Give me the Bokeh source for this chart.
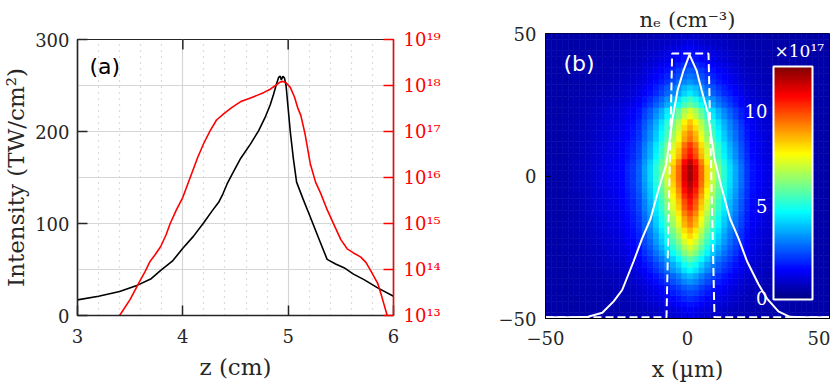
import numpy as np
from math import pi
from bokeh.plotting import figure
from bokeh.layouts import row, column
from bokeh.models import (Range1d, LogScale, LogAxis, FixedTicker,
                          CustomJSTickFormatter, Label, ColorBar, LinearColorMapper,
                          ColumnDataSource)
from bokeh.transform import linear_cmap
from bokeh.embed import file_html
from bokeh.resources import INLINE

SERIF = "DejaVu Serif"
SANS = "DejaVu Sans"

# ---------------- panel (a) data ----------------
z_int = [3.00, 3.20, 3.40, 3.57, 3.70, 3.79, 3.90, 4.00, 4.10, 4.20, 4.28, 4.34, 4.38, 4.42,
         4.48, 4.55, 4.64, 4.72, 4.78, 4.83, 4.86, 4.89, 4.91, 4.925, 4.935, 4.95, 4.965,
         4.98, 5.00, 5.02, 5.05, 5.08, 5.14, 5.21, 5.30, 5.37, 5.45, 5.53, 5.62, 5.72, 5.85, 6.00]
intensity = [17, 21, 26, 33, 40, 49, 59, 73, 86, 101, 114, 123, 132, 143,
             156, 171, 186, 201, 215, 229, 240, 252, 259, 260, 256, 260, 258,
             250, 225, 200, 170, 145, 127, 107, 81, 61, 56, 52, 45, 39, 30, 21]

z_ne = [3.40, 3.50, 3.58, 3.64, 3.69, 3.74, 3.79, 3.84, 3.88, 3.94, 4.00, 4.07, 4.14, 4.20,
        4.26, 4.32, 4.39, 4.47, 4.55, 4.63, 4.70, 4.77, 4.83, 4.88, 4.92, 4.95, 4.98, 5.02,
        5.06, 5.09, 5.12, 5.16, 5.21, 5.26, 5.31, 5.37, 5.44, 5.50, 5.56, 5.62, 5.69, 5.74,
        5.79, 5.85, 5.89, 5.94]
ne_log10 = [13.0, 13.35, 13.70, 13.95, 14.18, 14.33, 14.50, 14.75, 15.00, 15.30, 15.57, 16.00,
            16.43, 16.75, 17.02, 17.25, 17.39, 17.53, 17.65, 17.72, 17.78, 17.85, 17.92, 18.00,
            18.07, 18.09, 18.06, 17.96, 17.75, 17.52, 17.35, 16.95, 16.30, 15.90, 15.65, 15.30,
            14.95, 14.65, 14.45, 14.36, 14.27, 14.15, 13.95, 13.70, 13.40, 13.0]

z_ticks = [3, 4, 5, 6]
z_top_ticks = [4, 5]
int_ticks = [0, 100, 200, 300]
ne_ticks = [1e13, 1e14, 1e15, 1e16, 1e17, 1e18, 1e19]

# ---------------- panel (b) data ----------------
x_cells = np.arange(-49, 50, 2)       # cell centres (um)
y_cells = np.arange(-49, 50, 2)
gx = [0, 0, 0, 0.005, 0.01, 0.016, 0.02, 0.03, 0.04, 0.05, 0.06, 0.07, 0.08, 0.095, 0.125,
      0.15, 0.19, 0.26, 0.32, 0.40, 0.48, 0.58, 0.69, 0.79, 0.93, 1.0, 0.92, 0.79, 0.67, 0.57,
      0.48, 0.40, 0.33, 0.27, 0.21, 0.15, 0.11, 0.09, 0.07, 0.06, 0.05, 0.04, 0.03, 0.02,
      0.016, 0.01, 0.005, 0, 0, 0]
gy = [0.07, 0.08, 0.11, 0.14, 0.17, 0.20, 0.25, 0.29, 0.36, 0.40, 0.46, 0.53, 0.58, 0.63,
      0.67, 0.71, 0.76, 0.78, 0.82, 0.86, 0.88, 0.92, 0.95, 0.98, 1.0, 1.0, 1.0, 0.96, 0.89,
      0.87, 0.84, 0.78, 0.76, 0.72, 0.69, 0.61, 0.58, 0.47, 0.42, 0.34, 0.31, 0.25, 0.22,
      0.19, 0.15, 0.12, 0.11, 0.08, 0.06, 0.04]   # from y=-49 upward
N_BG = 0.5
N_AMP = 11.4
N_MAX = 12.3

x_beam = [-50, -40, -35, -30, -26, -23, -19, -16, -13, -10, -7.5, -5.3, -3.5, -1.4, 0.7,
          3.2, 5.0, 7.2, 9.5, 12, 15, 18, 21, 25, 28, 32, 36, 40, 50]
y_beam = [-49.6, -49.6, -49.4, -48, -44, -40, -30, -22, -15, -4, 4, 20, 30, 37, 42.6,
          37, 30, 22, 6, -4, -15, -22, -30, -38, -43, -47.5, -49.4, -49.6, -49.6]
x_flat = [-50, -7.4, -5.4, 7.4, 9.5, 50]
y_flat = [-49.6, -49.6, 43, 43, -49.6, -49.6]
xy_ticks = [-50, 0, 50]
xy_top_ticks = [0]
cbar_labels = ["10", "5", "0"]


def jet_palette(n=256):
    out = []
    for i in range(n):
        t = i / (n - 1)
        r = min(max(1.5 - abs(4 * t - 3), 0), 1)
        g = min(max(1.5 - abs(4 * t - 2), 0), 1)
        b = min(max(1.5 - abs(4 * t - 1), 0), 1)
        out.append("#%02x%02x%02x" % (int(round(r * 255)), int(round(g * 255)), int(round(b * 255))))
    return out


JET = jet_palette()
AX = "#262626"

# ================= panel (a) =================
pa = figure(width=486, height=386, x_range=(3, 6), y_range=(0, 300),
            output_backend="svg", toolbar_location=None,
            min_border_left=77, min_border_right=93, min_border_top=39, min_border_bottom=71)
pa.outline_line_color = AX
pa.outline_line_width = 1.2

pa.extra_y_ranges = {"ne": Range1d(1e13, 1e19)}
pa.extra_y_scales = {"ne": LogScale()}

for ax in (pa.xaxis[0], pa.yaxis[0]):
    ax.major_tick_in = 10
    ax.major_tick_out = 0
    ax.minor_tick_line_color = None
    ax.axis_line_color = AX
    ax.axis_line_width = 1.5
    ax.major_tick_line_color = AX
    ax.major_tick_line_width = 1.5
    ax.major_label_text_font = SERIF
    ax.major_label_text_font_size = "18px"
    ax.major_label_text_color = AX
    ax.axis_label_text_font = SERIF
    ax.axis_label_text_font_size = "23px"
    ax.axis_label_text_font_style = "normal"
    ax.axis_label_text_color = AX

pa.xaxis.ticker = FixedTicker(ticks=z_ticks)
pa.yaxis.ticker = FixedTicker(ticks=int_ticks)
pa.xaxis.major_label_standoff = 13
pa.yaxis.major_label_standoff = 8
pa.xaxis.axis_label = "z (cm)"
pa.xaxis.axis_label_standoff = 8
pa.yaxis.axis_label = "Intensity (TW/cm²)"
pa.yaxis.axis_label_standoff = 3

sup_code = """
const sup = {"0":"\u2070","1":"\u00b9","2":"\u00b2","3":"\u00b3","4":"\u2074","5":"\u2075","6":"\u2076","7":"\u2077","8":"\u2078","9":"\u2079","-":"\u207b"};
const e = String(Math.round(Math.log10(tick)));
return "10" + e.split("").map(c => sup[c]).join("");
"""
ne_ax = LogAxis(y_range_name="ne", ticker=FixedTicker(ticks=ne_ticks),
                formatter=CustomJSTickFormatter(code=sup_code),
                major_tick_in=10, major_tick_out=0, minor_tick_line_color=None,
                axis_line_color="red", axis_line_width=1.5,
                major_tick_line_color="red", major_tick_line_width=1.5,
                major_label_text_color="red", major_label_text_font=SERIF,
                major_label_text_font_size="18px", major_label_standoff=10)
pa.add_layout(ne_ax, "right")

pa.xgrid.ticker = FixedTicker(ticks=[4, 5],
                              minor_ticks=[3.2, 3.4, 3.6, 3.8, 4.2, 4.4, 4.6, 4.8,
                                           5.2, 5.4, 5.6, 5.8])
pa.xgrid.grid_line_color = "#d6d6d6"
pa.xgrid.grid_line_width = 1.2
pa.xgrid.minor_grid_line_color = "#b8b8b8"
pa.xgrid.minor_grid_line_dash = "1 5"
pa.xgrid.minor_grid_line_width = 1.2
pa.ygrid.ticker = FixedTicker(ticks=[50, 100, 150, 200, 250])
pa.ygrid.grid_line_color = "#d6d6d6"
pa.ygrid.grid_line_width = 1.2

# inward tick marks on the top edge (10 px long)
pa.segment(x0=z_top_ticks, y0=[300] * len(z_top_ticks), x1=z_top_ticks,
           y1=[300 - 10 * 300 / 276] * len(z_top_ticks), line_color=AX, line_width=1.5)

pa.line(z_int, intensity, line_color="black", line_width=1.6)
pa.line(z_ne, [10 ** v for v in ne_log10], y_range_name="ne", line_color="#ff0000", line_width=1.6)

pa.add_layout(Label(x=12, y=249, x_units="screen", y_units="screen", text="(a)",
                    text_font=SANS, text_font_size="22px", text_color="black",
                    text_baseline="middle", text_align="left"))
pa.add_layout(Label(x=386, y=135, x_units="screen", y_units="screen", text="nₑ (cm⁻³)",
                    angle=pi / 2, text_font=SERIF, text_font_size="22px", text_color="red",
                    text_baseline="middle", text_align="center"))

# ================= panel (b) =================
pb = figure(width=344, height=386, x_range=(-50, 50), y_range=(-50, 50),
            output_backend="svg", toolbar_location=None,
            min_border_left=59, min_border_right=1, min_border_top=33, min_border_bottom=68)
pb.outline_line_color = "black"
pb.outline_line_width = 1
pb.grid.visible = False
pb.title.text = "nₑ (cm⁻³)"
pb.title.align = "center"
pb.title.text_font = SERIF
pb.title.text_font_size = "21px"
pb.title.text_font_style = "normal"
pb.title.text_color = AX
pb.title.standoff = 4

gxa = np.array(gx)
gya = np.array(gy)
n_map = N_BG + N_AMP * np.outer(gya, gxa)
XX, YY = np.meshgrid(x_cells, y_cells)
src = ColumnDataSource(dict(x=XX.ravel(), y=YY.ravel(), n=n_map.ravel()))
cmap = linear_cmap("n", JET, 0, N_MAX)
pb.rect(x="x", y="y", width=2, height=2, source=src, fill_color=cmap,
        line_color=cmap, line_width=0.6)

pb.line(x_beam, y_beam, line_color="white", line_width=2)
pb.line(x_flat, y_flat, line_color="white", line_width=2, line_dash="8 4")
pb.segment(x0=xy_top_ticks, y0=[50], x1=xy_top_ticks, y1=[50 - 5 * 100 / 285],
           line_color="black", line_width=1)

for ax in (pb.xaxis[0], pb.yaxis[0]):
    ax.ticker = FixedTicker(ticks=xy_ticks)
    ax.major_tick_in = 5
    ax.major_tick_out = 0
    ax.minor_tick_line_color = None
    ax.axis_line_color = "black"
    ax.major_tick_line_color = "black"
    ax.major_label_text_font = SERIF
    ax.major_label_text_font_size = "18px"
    ax.major_label_text_color = AX
    ax.axis_label_text_font = SERIF
    ax.axis_label_text_font_size = "22px"
    ax.axis_label_text_font_style = "normal"
    ax.axis_label_text_color = AX
pb.xaxis.major_label_standoff = 12
pb.yaxis.major_label_standoff = 9
pb.xaxis.axis_label = "x (µm)"
pb.xaxis.axis_label_standoff = 9

mapper = LinearColorMapper(palette=JET, low=0, high=N_MAX)
cb = ColorBar(color_mapper=mapper, location=(228, 19), width=39, height=233, padding=0,
              bar_line_color="white", bar_line_width=2, ticker=FixedTicker(ticks=[]),
              major_tick_line_color=None, minor_tick_line_color=None,
              background_fill_alpha=0, border_line_color=None)
pb.add_layout(cb, "center")

for txt, yy in zip(cbar_labels, [208, 113, 21]):
    pb.add_layout(Label(x=222, y=yy, x_units="screen", y_units="screen", text=txt,
                        text_font=SERIF, text_font_size="18px", text_color="white",
                        text_baseline="middle", text_align="right"))
pb.add_layout(Label(x=229, y=268, x_units="screen", y_units="screen", text="×10¹⁷",
                    text_font=SERIF, text_font_size="17px", text_color="white",
                    text_baseline="middle", text_align="left"))
pb.add_layout(Label(x=18, y=255, x_units="screen", y_units="screen", text="(b)",
                    text_font=SANS, text_font_size="22px", text_color="white",
                    text_baseline="middle", text_align="left"))
pb.add_layout(Label(x=-43, y=144, x_units="screen", y_units="screen", text="y (µm)",
                    angle=pi / 2, text_font=SERIF, text_font_size="22px", text_color=AX,
                    text_baseline="middle", text_align="center"))

layout = row(pa, column(pb))
open("out.html", "w").write(file_html(layout, INLINE))
